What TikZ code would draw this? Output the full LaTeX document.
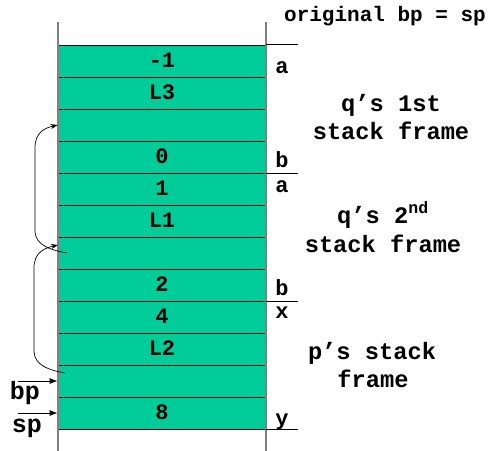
\documentclass[tikz,border=0pt]{standalone}
\usepackage{fontspec}
\setmainfont{Liberation Mono}
\usetikzlibrary{arrows.meta}
\definecolor{cellgreen}{RGB}{0,204,153}
\definecolor{wallgray}{RGB}{128,128,128}
\begin{document}
\begin{tikzpicture}[x=1pt,y=-1pt,
  cell/.style={draw=black, line width=0.8pt, fill=cellgreen, minimum width=208pt,
    minimum height=32pt, inner sep=0pt, text height=13pt, text depth=0pt,
    font=\fontsize{22}{26}\selectfont\bfseries},
  lbl/.style={anchor=base, inner sep=0pt, font=\fontsize{23.7}{28}\selectfont\bfseries},
  side/.style={anchor=base, inner sep=0pt, font=\fontsize{25}{29}\selectfont\bfseries},
  letter/.style={anchor=base, inner sep=0pt, font=\fontsize{22}{26}\selectfont\bfseries},
  wall/.style={draw=wallgray, line width=1.5pt},
  ext/.style={draw=black, line width=0.8pt},
  ptr/.style={draw=black, line width=0.8pt, -{Latex[length=8pt,width=6pt]}},
  link/.style={draw=black, line width=0.7pt, -{Stealth[length=7pt,width=5pt]}}
]
\useasboundingbox (0,0) rectangle (490,450);

\foreach \t [count=\i] in {-1,L3,{},0,1,L1,{},2,4,L2,{},8}
  \node[cell] (c\i) at (162,{29+32*\i}) {\t};

% walls
\coordinate (lt) at (58,22); \coordinate (lb) at (58,452);
\coordinate (rt) at (266,22); \coordinate (rb) at (266,452);
\draw[wall] (lt) -- (lb);
\draw[wall] (rt) -- (rb);

% frame boundary extensions
\draw[ext] (c1.north east) -- ++(32,0);
\draw[ext] (c4.south east) -- ++(32,0);
\draw[ext] (c8.south east) -- ++(32,0);
\draw[ext] (c12.south east) -- ++(32,0);

% top label
\node[anchor=base, inner sep=0pt, font=\fontsize{21}{25}\selectfont\bfseries] (orig) at (385,21) {original bp = sp};

% variable letters
\node[letter] (la1) at (282,73) {a};
\node[letter] (lb1) at (282,167) {b};
\node[letter] (la2) at (282,192) {a};
\node[letter] (lb2) at (282,295) {b};
\node[letter] (lx) at (282,318) {x};
\node[letter] (ly) at (282,425) {y};

% frame labels
\node[lbl] (q1a) at (391,111) {q’s 1st};
\node[lbl] (q1b) at (391,139) {stack frame};
\node[lbl] (q2a) at (383,223) {q’s 2\textsuperscript{nd}};
\node[lbl] (q2b) at (383,252) {stack frame};
\node[lbl] (pa) at (372,359) {p’s stack};
\node[lbl] (pb) at (373,387) {frame};

% bp / sp pointers
\node[side] (bp) at (25,399) {bp};
\node[side] (sp) at (27,432) {sp};
\coordinate (bps) at (18,381);
\coordinate (sps) at (18,413);
\draw[ptr] (bps) -- (c11.west);
\draw[ptr] (sps) -- (c12.west);

% saved bp links
\coordinate (s1) at (67,253);
\coordinate (s2) at (65,373);
\coordinate (t2) at (58,245);
\draw[link] (s1) .. controls (50,250) and (36,245) .. (35,232) -- (35,148)
  .. controls (35,132) and (45,128) .. (c3.west);
\draw[link] (s2) .. controls (48,370) and (35,365) .. (34,352) -- (34,268)
  .. controls (34,252) and (45,248) .. (t2);
\end{tikzpicture}
\end{document}
